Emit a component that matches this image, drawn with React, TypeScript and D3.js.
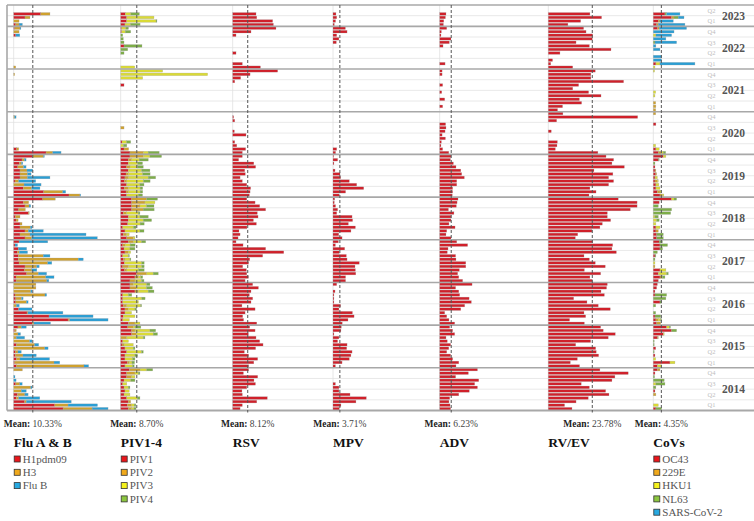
import * as d3 from 'd3';

// rows: Jan 2014 -> Jun 2023 (2023 only runs to June)
const years = [2014, 2015, 2016, 2017, 2018, 2019, 2020, 2021, 2022, 2023];
const monthsInYear = [12, 12, 12, 12, 12, 12, 12, 12, 12, 6];

// Flu A & B (% positive), one line per year, Jan..Dec
const h1pdm09 = [
  26.7, 22.2, 5.9, 1.4, 2, 0, 0, 1.1, 0, 0, 0, 0,
  1.4, 0.5, 1.4, 0.9, 0.9, 0, 1.4, 0, 0, 0, 0.5, 2.3,
  10, 29.4, 19.1, 7.2, 2.7, 0, 1.1, 1.1, 0.7, 0, 0, 0,
  1.3, 1.3, 7, 5.8, 6.1, 2.9, 2.5, 2.5, 2, 2.5, 0.7, 2.9,
  6.1, 3.4, 6.1, 3.4, 3.4, 1.3, 0.9, 7.9, 2.7, 6.1, 5.2, 15.7,
  29.9, 16.2, 5.2, 0, 0.7, 3.4, 3.4, 3.4, 2.2, 3.1, 4.5, 10.3,
  17.5, 1.6, 0, 0, 0, 0, 0, 0, 0, 0, 0, 0,
  0, 0, 0, 0, 0, 0, 0, 0, 0, 0, 0, 0,
  0, 0, 0, 0, 0, 0, 0, 0, 0, 1.1, 0, 0.5,
  1.1, 0, 6.1, 14.6, 0, 0,
];
const h3 = [
  15.7, 7.2, 0.9, 1.3, 4, 4.1, 9.2, 2.2, 0, 0, 0, 4.7,
  36.6, 21.3, 2, 4.1, 1.4, 16.8, 9.9, 8.6, 1.4, 2.3, 0.9, 1.8,
  0.9, 0.9, 0, 0.5, 0, 1.4, 5.8, 3.1, 16.2, 9.2, 12, 12,
  16.6, 16, 6.3, 4, 6.3, 15.5, 32.4, 13.5, 1, 0, 0, 0,
  3.6, 5.4, 1.8, 5.6, 1.1, 1.1, 2.5, 0.5, 3.6, 2.2, 2.9, 6.8,
  5.9, 10.3, 4.5, 5.6, 2, 4, 4, 3.8, 3.1, 1.1, 1.3, 5.8,
  3.6, 1.1, 0, 0, 0, 0, 0, 0, 0, 0, 0.5, 0,
  0, 0, 0, 0, 0, 0, 0, 0, 0, 0, 0.5, 0,
  1.1, 0, 0, 0, 0, 0, 0, 0, 0, 0, 2.9, 2.9,
  1.8, 2.9, 2.7, 5, 0, 0,
];
const fluB = [
  8.6, 15.9, 24.3, 11.4, 1.8, 2.7, 0.7, 1.3, 1.3, 0.7, 0, 0,
  2.5, 3.1, 16, 7.2, 1.8, 1.8, 2.2, 1.3, 4.5, 1.4, 0, 2.7,
  9, 20.7, 23.8, 18.9, 7.2, 1.6, 0.9, 0.9, 0.9, 0.7, 0, 0,
  1.1, 4.5, 4.5, 2.7, 1.4, 2.2, 2.7, 3.6, 4.5, 4.5, 1.4, 15.5,
  35.5, 30.3, 8.1, 0.9, 0, 0, 0, 0, 0, 0.9, 0, 0,
  0.4, 1.6, 4.5, 9.2, 9.2, 12.2, 2, 3.1, 1.4, 0.7, 0.9, 0.5,
  4.5, 0, 0, 0, 0, 0, 0, 0, 0, 0, 0.8, 0,
  0, 0, 0, 0, 0, 0, 0, 0, 0, 0, 0, 0,
  0, 0, 0, 0, 0, 0, 0, 0, 0, 2.2, 0, 0.5,
  1.8, 0, 0, 0, 0, 0,
];

// PIV1-4
const piv1 = [
  4.1, 3.6, 4.1, 3.2, 1.8, 2.3, 1.8, 1.1, 1.8, 3.2, 3.2, 4.7,
  2.3, 3.6, 2.3, 2.3, 3.2, 2.3, 0.7, 1.1, 0, 5.9, 5.9, 3.8,
  4.1, 1.1, 1.4, 2.3, 2.3, 1.4, 1.1, 1.1, 1.1, 7.7, 5, 5,
  5, 7.7, 8.6, 2, 1.1, 2, 1.4, 1.1, 2.3, 1.8, 1.1, 4.1,
  3.2, 1.4, 2.3, 1.1, 3.8, 4.1, 4.1, 1.4, 5.9, 5.9, 5.9, 5.9,
  3.2, 2.9, 2, 3.2, 2, 2.3, 2.9, 4.1, 3.2, 4.1, 4.1, 5,
  5, 1.8, 0, 0.7, 0, 0, 0, 0, 0, 0, 0, 0,
  0, 0, 0, 0, 0, 0, 0, 1.8, 0, 0, 0, 0,
  0, 0, 0, 0, 0, 0, 1.8, 0, 0, 0, 0.5, 0.5,
  2.3, 3.2, 3.2, 2.5, 0, 0,
];
const piv2 = [
  1.8, 2.3, 1.3, 0, 0, 0, 0, 0, 0, 2.7, 4.5, 5.8,
  0, 1.1, 0, 0, 0, 0, 1.1, 0, 3.2, 2.7, 1.8, 3.1,
  3.6, 0, 0, 0, 1.8, 1.8, 0, 0, 0, 1.8, 3.6, 1.8,
  2.7, 1.8, 5.4, 1.3, 3.1, 0, 0.9, 0, 1.8, 0, 1.3, 2.7,
  3.6, 1.8, 0, 0, 0, 0, 0, 1.8, 6.3, 4.5, 7.2, 8.1,
  0, 1.3, 2.2, 0, 1.3, 1.8, 1.3, 0, 1.8, 0, 1.8, 7.2,
  7.2, 2.5, 0, 0, 0, 0, 0, 1.8, 0, 0, 0, 0,
  0, 0, 0, 0, 0, 0, 0, 0, 0, 0, 0, 0,
  0, 0, 0, 0, 0, 0, 0, 0, 0, 0, 0, 0,
  0, 0, 0, 0, 0, 0,
];
const piv3 = [
  1.3, 1.4, 0, 5.8, 3.2, 2.3, 2.3, 2.2, 3.6, 1.8, 1.8, 3.6,
  4.1, 1.4, 4.1, 5.4, 8.1, 4.5, 5, 3.1, 9, 9, 8.1, 0.9,
  2.7, 3.6, 6.3, 3.6, 3.6, 7.6, 8.5, 10.3, 3.1, 5.4, 5.4, 7.2,
  3.6, 1.3, 3.6, 6.3, 7.2, 9.4, 2.7, 3.1, 1.3, 3.2, 2.7, 4.5,
  0.9, 1.4, 8.1, 5.8, 6.7, 8.1, 6.3, 6.3, 0, 3.6, 5.4, 0,
  6.3, 6.3, 6.3, 7.2, 9, 10.8, 7.7, 7.2, 4.1, 5, 4.1, 3.6,
  2.7, 0, 1.5, 2.5, 0, 0, 0, 0, 0, 0, 0, 0,
  0, 0, 0, 0, 0, 0, 0, 0, 0, 11.9, 47, 22.7,
  7.6, 0, 0, 0, 0, 0, 0, 0, 0, 0, 2, 2.3,
  3, 15.9, 14.8, 3, 0, 0,
];
const piv4 = [
  1.1, 0.9, 0, 1.4, 0, 0, 0.9, 0, 2.3, 0, 0.9, 3.2,
  0.9, 1.4, 1.3, 1.4, 0.9, 0.9, 0, 0, 0.9, 2.3, 3.1, 3.1,
  0, 0, 0, 0, 0.9, 0.5, 0, 1.8, 1.8, 3.1, 3.1, 1.8,
  1.3, 1.1, 2.7, 3.1, 1.3, 1.3, 0.5, 0.5, 0, 2.7, 2.7, 2.2,
  0, 0, 2.2, 1.4, 2.2, 4.5, 4.5, 0.9, 5.9, 4, 0, 5.9,
  2.3, 1.4, 1.4, 2.2, 3.6, 4, 4, 4.5, 3.1, 2.7, 4.9, 6.3,
  5.9, 0, 1.8, 2.2, 0, 0, 0, 0, 0, 0, 0, 0,
  0, 0, 0, 0, 0, 0, 0, 0, 0, 0, 0, 0,
  0, 0, 0, 0, 1.8, 3.8, 9.7, 1.8, 1.4, 1.1, 2.9, 1.4,
  5.2, 0.5, 0, 4.6, 0, 0,
];

const rsv = [
  4, 5.2, 13, 18.7, 5.2, 5, 7.6, 12.3, 11.5, 13.5, 5.8, 8.6,
  8.6, 11.4, 13.5, 8.6, 6.3, 12.4, 16.4, 14.6, 12.6, 8.5, 12.1, 9.2,
  13, 5.9, 5.4, 6.7, 12.1, 5, 9.9, 10.8, 9, 9.9, 13.9, 10.8,
  6.7, 8.5, 7.6, 7.4, 5.4, 8.6, 9.2, 16.2, 27.6, 17.8, 5.6, 1.8,
  2.9, 4, 3.4, 7.7, 12.8, 11.2, 13.7, 13.3, 17.8, 14.6, 12.1, 7.6,
  9, 9.4, 9.7, 7.6, 5.2, 4, 6.8, 6.5, 12.4, 11.4, 3.2, 5.2,
  5.2, 7, 2.2, 1.1, 0, 7.2, 0.9, 0, 0, 1.1, 0.5, 0,
  0, 0, 0, 0, 0, 0, 0, 0, 1.1, 4.3, 9.4, 24.3,
  15, 5.2, 0, 0, 1.8, 0, 0, 0, 0, 1.8, 9.9, 23.4,
  22, 21.6, 13, 12.6, 0, 0,
];

const mpv = [
  3.4, 4.3, 12.4, 18, 9.2, 3.2, 3.2, 1.3, 0, 0, 0, 0,
  1.3, 4.9, 8.8, 9.7, 10.3, 7.4, 7.6, 2.5, 3.2, 0.5, 4.3, 4.5,
  5, 8.1, 11.4, 10.5, 3.2, 4.1, 0.5, 0.5, 0.5, 1.1, 0, 2,
  6.8, 6.8, 12.3, 12.1, 11.9, 14.2, 7.6, 7.2, 3.4, 6.3, 1.3, 2.9,
  4.9, 3.1, 9.7, 12.1, 8.3, 10.6, 10.3, 2, 2.5, 1.4, 0.7, 0.9,
  3.4, 6.8, 16.6, 12.8, 8.8, 4.1, 3.8, 1.1, 0, 0.5, 2.5, 0.3,
  1.4, 2, 0, 0, 0, 0, 0, 0, 0, 0, 0, 0,
  0, 0, 0, 0, 0, 0, 0, 0, 0, 0, 0, 0,
  0, 0, 0, 0, 0, 0, 0, 1.8, 3.2, 2, 7.6, 6.7,
  0.7, 1.4, 2, 1.6, 0, 0,
];

const adv = [
  5.9, 5.6, 5, 5.4, 10.3, 16, 20.4, 18.9, 21.1, 8.6, 15.5, 20.4,
  8.8, 10.3, 7, 5.9, 3.8, 4.9, 5.9, 4.1, 3.4, 8.1, 7, 5.4,
  8.1, 5, 3.8, 2.7, 11.4, 13.5, 17.1, 15.9, 10.8, 10.3, 8.6, 17.5,
  12.4, 10.3, 9.7, 10.6, 14.1, 14.1, 8.8, 8.6, 4.1, 4.5, 15.1, 9.2,
  6.1, 3.4, 3.8, 8.3, 5, 6.1, 6.1, 7.7, 4.7, 9, 9.4, 9.9,
  6.8, 7, 7, 9.2, 9.2, 13.3, 11.9, 11.4, 8.8, 7.4, 5.8, 6.1,
  4.9, 1.6, 0.7, 0.9, 3.1, 1.3, 2.9, 3.4, 3.2, 0, 0, 0,
  0, 1.6, 0, 2.7, 0, 1.1, 0, 1.6, 0, 0, 1.3, 1.3,
  0, 2.9, 0, 0, 0, 0, 1.8, 5.2, 6.1, 0.7, 0.9, 3.8,
  2, 2.2, 3.1, 3.4, 0, 0,
];

const rvev = [
  12.8, 8.8, 15, 21.6, 32.8, 31, 22.2, 17.8, 34.4, 36, 43.2, 27.9,
  16.9, 11.9, 15.7, 27.2, 25.9, 25.6, 14.8, 22.9, 32.4, 36.2, 29.7, 28.3,
  19.5, 11.5, 20.2, 19.3, 33.5, 27, 20.9, 13.7, 30.3, 28.5, 31.5, 31.9,
  23.8, 22.5, 28.3, 19.5, 30.8, 25.4, 22.2, 19.3, 36.8, 34.4, 34.8, 24,
  14.6, 15.9, 23.6, 27.9, 29.2, 33.7, 31.9, 31.9, 44.3, 48, 48, 37.8,
  22, 25.8, 22.5, 32.6, 35.3, 32.6, 34.9, 24.7, 41.1, 34.4, 35.3, 31.2,
  26.8, 3.8, 4.7, 4.9, 0, 0, 1.6, 0, 0, 4.5, 48.3, 7.9,
  5, 7.7, 18, 16.8, 28.5, 21.8, 13.2, 16.4, 40.7, 23, 23, 25.4,
  13.2, 1.3, 2.3, 0, 6.3, 33.9, 22.2, 15, 23.8, 24, 20.4, 19.1,
  10.6, 17.5, 28.8, 22.5, 0, 0,
];

// CoVs
const oc43 = [
  1.4, 0, 0, 0, 0, 0.9, 0, 0, 0, 0, 0.9, 2.2,
  2.2, 9, 0, 0.9, 0, 1.3, 0, 0, 2.2, 5.4, 9.9, 7.2,
  1.8, 1.4, 0.9, 0, 0, 0, 3.6, 0, 0.9, 0.9, 1.8, 2.2,
  2.7, 3.6, 2.7, 3.6, 0, 0, 0, 0.9, 0, 3.6, 3.6, 3.2,
  1.8, 1.8, 1.4, 1.4, 0, 0, 0, 0, 0, 0, 3.2, 9.9,
  3.6, 2.2, 1.4, 1.4, 0.9, 0.9, 1.3, 0.9, 0.9, 0, 2.7, 5.4,
  2.7, 1.4, 0, 0, 0, 0, 0, 0, 1.4, 0, 0, 0,
  0, 0, 0, 0, 0, 0, 0, 0, 0, 0, 0, 0,
  0, 1.4, 0, 0, 0, 0, 0, 0, 0, 0, 0, 2.3,
  1.8, 2.7, 9.9, 6.3, 0, 0,
];
const e229 = [
  0, 0, 0, 0, 1.4, 0, 0, 0, 0, 0, 0, 1.4,
  0, 0, 0, 0, 0, 0, 0, 0, 0.5, 0, 0, 0,
  2.2, 1.3, 0, 0, 0, 0, 0, 0, 0, 0, 0, 0,
  0, 1.3, 0, 0, 0.9, 0, 0, 0, 0, 0, 0, 0,
  0, 0, 1.3, 0, 0, 0, 0, 0, 0, 0, 0, 0,
  1.4, 1.4, 0, 0, 1.3, 0, 0.5, 0.5, 0, 0, 0, 0,
  1.8, 0, 0, 0, 0, 0, 0, 0, 0, 0, 0, 1.3,
  1.3, 1.4, 1.3, 0, 0, 0, 0, 0, 0, 0, 0, 0,
  0, 0, 0, 0, 0, 0, 0, 0, 0, 0, 0, 0.9,
  0.9, 0.9, 1.3, 0, 0, 0,
];
const hku1 = [
  0, 2.7, 0, 0, 0, 0, 0, 1.4, 0, 0, 0, 0,
  2.3, 2.7, 1.3, 0, 0, 0, 0, 0, 0, 0.5, 0, 1.4,
  0, 1.3, 0, 0, 0, 0, 0, 0, 0, 0, 0, 0,
  0, 0, 4.5, 3.2, 0, 0.9, 0, 0, 0, 0, 0, 0,
  0, 0, 0, 2.2, 1.4, 1.8, 0.9, 0, 0, 0, 0, 1.3,
  0.7, 0.9, 2.2, 1.6, 0.5, 1.3, 0, 0, 0, 0, 0, 1.4,
  0.9, 1.8, 1.3, 0, 0, 0, 0, 0, 0, 0, 0, 0,
  0, 0, 0, 0, 0.9, 1.3, 0, 0, 0, 0, 0, 0.7,
  0.9, 2.2, 0, 0, 0, 0, 0, 0, 0, 1.4, 0, 0,
  0, 0, 0, 0, 0, 0,
];
const nl63 = [
  3.1, 0, 0, 0, 0, 0, 1.4, 4.9, 5.9, 0.7, 0, 0,
  0, 0, 0, 0, 0.5, 0, 0.5, 0.5, 0, 0, 2.7, 0.7,
  0, 0.5, 3.1, 1.3, 0, 1.3, 0.9, 6.8, 6.3, 0, 0, 0,
  0, 1.4, 0.9, 0, 0, 0, 0.9, 0.5, 2.2, 1.4, 4.1, 1.8,
  3.6, 3.6, 0, 0, 0, 1.4, 1.8, 9.4, 9.9, 2.7, 0, 1.4,
  0, 0, 0, 0, 0, 0, 0, 0, 0, 0.9, 0.5, 0,
  1.3, 0, 0, 0, 0, 0, 0, 0, 0, 0, 0, 0,
  0, 0, 0, 0, 0, 0, 0, 0, 0, 0, 0, 0,
  0, 0, 0, 0, 0, 0, 0, 0.9, 0, 0, 0, 0,
  0, 0, 2.3, 0.9, 0, 0,
];
const sarsCov2 = [
  0, 0, 0, 0, 0, 0, 0, 0, 0, 0, 0, 0,
  0, 0, 0, 0, 0, 0, 0, 0, 0, 0, 0, 0,
  0, 0, 0, 0, 0, 0, 0, 0, 0, 0, 0, 0,
  0, 0, 0, 0, 0, 0, 0, 0, 0, 0, 0, 0,
  0, 0, 0, 0, 0, 0, 0, 0, 0, 0, 0, 0,
  0, 0, 0, 0, 0, 0, 0, 0, 0, 0, 0, 0,
  0, 0, 0, 0, 0, 0, 0, 0, 0, 0, 0, 0,
  0, 0, 0, 0, 0, 0, 0, 0, 0, 0, 0, 0,
  0, 18.9, 4.5, 4.5, 0, 3.6, 1.4, 11.7, 6.8, 8.5, 11.2, 14.8,
  14.4, 7.2, 3.1, 7.2, 0, 0,
];

const panelTitles = ['Flu A & B', 'PIV1-4', 'RSV', 'MPV', 'ADV', 'RV/EV', 'CoVs'];
const panelMeans = [10.33, 8.7, 8.12, 3.71, 6.23, 23.78, 4.35];
const seriesNames = [
  ['H1pdm09', 'H3', 'Flu B'],
  ['PIV1', 'PIV2', 'PIV3', 'PIV4'],
  ['RSV'],
  ['MPV'],
  ['ADV'],
  ['RV/EV'],
  ['OC43', '229E', 'HKU1', 'NL63', 'SARS-CoV-2'],
];
const seriesValues = [
  [h1pdm09, h3, fluB],
  [piv1, piv2, piv3, piv4],
  [rsv],
  [mpv],
  [adv],
  [rvev],
  [oc43, e229, hku1, nl63, sarsCov2],
];

// colours
const RED = '#d0202a', GOLD = '#cfa12e', YEL = '#dada36', GRN = '#7dad48', BLU = '#2a9ed4';
const barColors = [
  [RED, GOLD, BLU],
  [RED, GOLD, YEL, GRN],
  [RED], [RED], [RED], [RED],
  [RED, GOLD, YEL, GRN, BLU],
];
const LRED = '#e8161b', LGOLD = '#f0a91c', LYEL = '#f5f21c', LGRN = '#8cc63f', LBLU = '#27a9e1';
const legendColors = [
  [LRED, LGOLD, LBLU],
  [LRED, LGOLD, LYEL, LGRN],
  [], [], [], [],
  [LRED, LGOLD, LYEL, LGRN, LBLU],
];

// layout
const W = 754;
const H = 521;
const plotTop = 5;
const plotBottom = 410.5;
const plotLeft = 7;
const panelX = [13.7, 120.7, 232.7, 333, 439.7, 548.3, 653.3];
const SERIF = '"Liberation Serif", "Times New Roman", serif';

const monthKeys = years.flatMap((yr, i) => d3.range(monthsInYear[i]).map((m) => `${yr}-${m + 1}`));

const y = d3
  .scaleBand()
  .domain([...monthKeys].reverse())
  .range([plotTop, plotBottom])
  .paddingInner(0.26)
  .paddingOuter(0.13);
const x = d3.scaleLinear().domain([0, 100]).range([0, 185]);

const slotTop = (k) => y(k) - (y.step() - y.bandwidth()) / 2;
const slotBottom = (k) => slotTop(k) + y.step();

const quarterNames = ['Q1', 'Q2', 'Q3', 'Q4'];

const App = () => {
  const yearLines = years.slice(1).map((yr) => slotBottom(`${yr}-1`));
  const quarterLines = [];
  const quarterLabels = [];
  const yearLabels = [];
  years.forEach((yr, i) => {
    const n = monthsInYear[i];
    const yearTop = n === 12 ? slotTop(`${yr}-12`) : plotTop;
    yearLabels.push({ yr, cy: (yearTop + slotBottom(`${yr}-1`)) / 2 });
    d3.range(4).forEach((q) => {
      const first = q * 3 + 1;
      if (first > n) return;
      const bot = slotBottom(`${yr}-${first}`);
      const tp = first + 2 <= n ? slotTop(`${yr}-${first + 2}`) : plotTop;
      if (q > 0) quarterLines.push(bot);
      quarterLabels.push({ name: quarterNames[q], cy: (tp + bot) / 2 });
    });
  });

  return (
    <svg
      width={W}
      height={H}
      viewBox={`0 0 ${W} ${H}`}
      style={{ position: 'absolute', left: 0, top: 0, background: '#fff', fontFamily: SERIF }}
    >
      {/* quarter grid */}
      {quarterLines.map((v, i) => (
        <line key={'q' + i} x1={plotLeft} x2={W} y1={v} y2={v} stroke="#e3e3e3" strokeWidth={0.8} />
      ))}
      {/* panel baselines */}
      {panelX.map((px, i) => (
        <line key={'b' + i} x1={px} x2={px} y1={plotTop} y2={plotBottom} stroke="#e0e0e0" strokeWidth={0.8} />
      ))}

      {/* bars */}
      {seriesValues.map((vals, p) => {
        const keys = seriesNames[p];
        const table = monthKeys.map((k, i) => {
          const row = { key: k };
          keys.forEach((s, j) => (row[s] = vals[j][i] || 0));
          return row;
        });
        const stacked = d3.stack().keys(keys)(table);
        return (
          <g key={'p' + p} transform={`translate(${panelX[p]},0)`}>
            {stacked.map((layer, j) =>
              layer.map((d) =>
                d[1] - d[0] > 0 ? (
                  <rect
                    key={layer.key + d.data.key}
                    x={x(d[0])}
                    y={y(d.data.key)}
                    width={x(d[1]) - x(d[0])}
                    height={y.bandwidth()}
                    fill={barColors[p][j]}
                    stroke="#9c9c9c"
                    strokeOpacity={0.6}
                    strokeWidth={0.4}
                  />
                ) : null
              )
            )}
          </g>
        );
      })}

      {/* year separators */}
      {yearLines.map((v, i) => (
        <line key={'y' + i} x1={plotLeft} x2={W} y1={v} y2={v} stroke="#a8a8a8" strokeWidth={1.6} />
      ))}
      {/* frame */}
      <line x1={plotLeft} x2={W} y1={plotTop} y2={plotTop} stroke="#a8a8a8" strokeWidth={1.6} />
      <line x1={plotLeft} x2={plotLeft} y1={plotTop} y2={plotBottom} stroke="#a8a8a8" strokeWidth={1.6} />
      <line x1={plotLeft} x2={W} y1={plotBottom} y2={plotBottom} stroke="#a8a8a8" strokeWidth={2} />

      {/* mean lines */}
      {panelMeans.map((m, i) => (
        <line
          key={'m' + i}
          x1={panelX[i] + x(m)}
          x2={panelX[i] + x(m)}
          y1={plotTop}
          y2={plotBottom + 2}
          stroke="#555"
          strokeWidth={1}
          strokeDasharray="3,2"
        />
      ))}

      {/* quarter and year labels */}
      {quarterLabels.map((q, i) => (
        <text key={'ql' + i} x={711.5} y={q.cy} dy="0.35em" textAnchor="middle" fontSize={6.5} fill="#bdbdbd">
          {q.name}
        </text>
      ))}
      {yearLabels.map((d) => (
        <text key={'yl' + d.yr} x={733.5} y={d.cy} dy="0.35em" textAnchor="middle" fontSize={11.5} fontWeight="bold" fill="#555">
          {d.yr}
        </text>
      ))}

      {/* mean captions */}
      {panelMeans.map((m, i) => (
        <text key={'mt' + i} x={panelX[i] + x(m)} y={427} textAnchor="middle" fontSize={9.5} fill="#444">
          <tspan fontWeight="bold" fill="#222">Mean:</tspan>
          {` ${m.toFixed(2)}%`}
        </text>
      ))}

      {/* titles and legends */}
      {panelTitles.map((t, i) => (
        <g key={'t' + i} transform={`translate(${panelX[i]},0)`}>
          <text x={0} y={446.5} fontSize={13.5} fontWeight="bold" fill="#111">
            {t}
          </text>
          {legendColors[i].map((c, j) => (
            <g key={j} transform={`translate(0,${459 + j * 13.3})`}>
              <rect x={0.5} y={-3} width={6} height={6} fill={c} stroke="#333" strokeWidth={0.8} />
              <text x={9} y={0} dy="0.35em" fontSize={11} fill="#555">
                {seriesNames[i][j]}
              </text>
            </g>
          ))}
        </g>
      ))}
    </svg>
  );
};

export default App;
